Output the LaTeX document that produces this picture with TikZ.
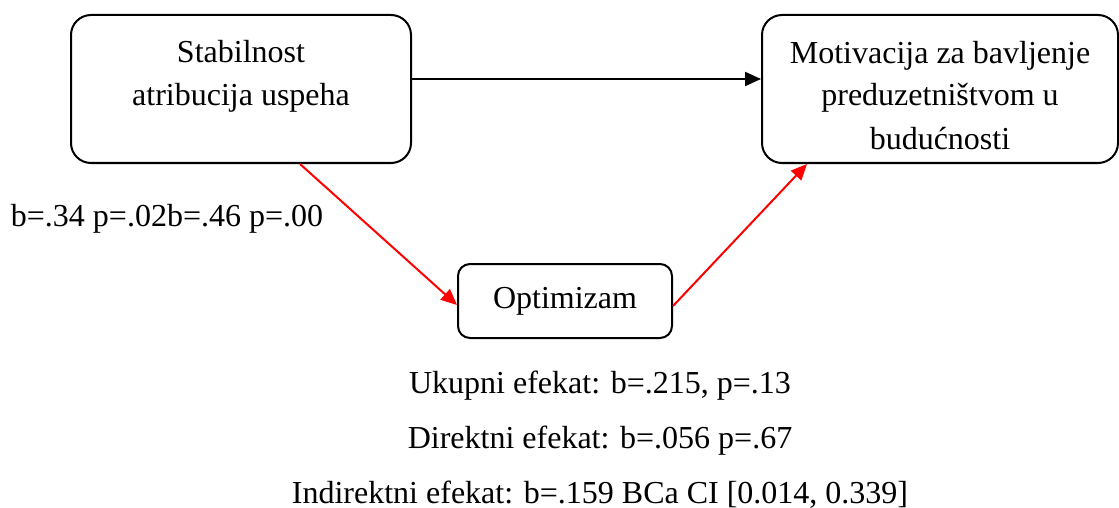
\documentclass[tikz,border=0pt]{standalone}
\usepackage{fontspec}
\setmainfont{Liberation Serif}
\usetikzlibrary{arrows.meta,positioning}

\begin{document}
\begin{tikzpicture}[
    x = 0.5pt, y = -0.5pt, % pixel grid of the figure
    > = {Triangle[length=8pt, width=7pt]}, % arrow head style
    line width = 1pt, % line style
    node distance = 11.5pt, % distance between effect lines
    font = \fontsize{16}{21.5}\selectfont
    ]

    \tikzset{varbox/.style={
    draw = black,
    rounded corners = 10pt,
    align = center,
    minimum width = 170pt,
    minimum height = 74pt
    }}
    \tikzset{effect/.style={
    inner sep = 0pt,
    text height = 11pt,
    text depth = 4pt
    }}

    \useasboundingbox (0,0) rectangle (1119,508);

    % text sits high in the boxes: text height - text depth sets that
    \node[varbox, text height = 38pt, text depth = 21pt] (stab) at (241,89)
        {Stabilnost\\atribucija uspeha};
    \node[varbox, minimum width = 178pt, text height = 62pt,
        text depth = 2pt] (motiv) at (940,89)
        {Motivacija za bavljenje\\preduzetništvom u\\budućnosti};
    \node[varbox, rounded corners = 6pt, minimum width = 107pt,
        minimum height = 37pt] (optim) at (565,301) {Optimizam};

    \node[inner sep = 0pt] (coef) at (167,219) {b=.34 p=.02b=.46 p=.00};

    \node[effect] (total) at (600,386) {Ukupni efekat: b=.215, p=.13};
    \node[effect] (direct) [below=of total] {Direktni efekat: b=.056 p=.67};
    \node[effect] (indirect) [below=of direct]
        {Indirektni efekat: b=.159 BCa CI [0.014, 0.339]};

    \draw[->] ([yshift=5pt]stab.east) -- ([yshift=5pt]motiv.west);
    \draw[->, red] ([xshift=29.5pt]stab.south) -- ([yshift=-2pt]optim.west);
    \draw[->, red] ([yshift=-2.5pt]optim.east) -- ([xshift=-66.5pt]motiv.south);
\end{tikzpicture}
\end{document}
